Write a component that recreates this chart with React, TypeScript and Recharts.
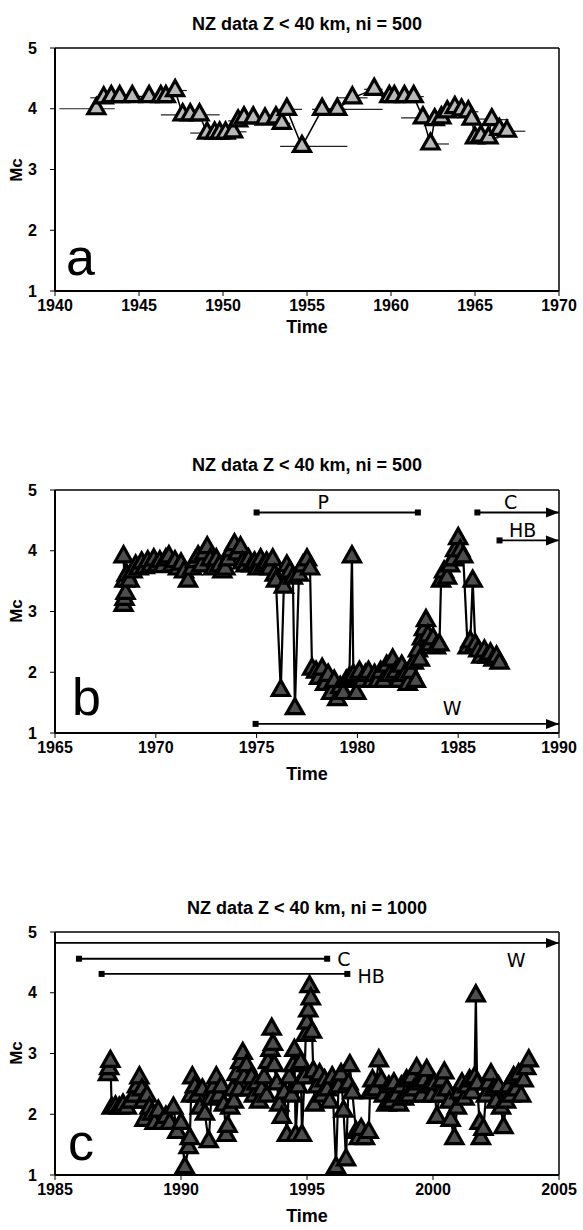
import React from 'react'
import { ScatterChart, Scatter, XAxis, YAxis, ErrorBar, ReferenceLine, ReferenceDot } from 'recharts'

// Panel a: 1940-1970, ni = 500. [year, Mc]
const seriesA: [number, number][] = [
  [1942.46, 4.0], [1942.9, 4.18], [1943.35, 4.2], [1943.85, 4.2], [1944.6, 4.2], [1945.6, 4.2],
  [1946.3, 4.2], [1946.6, 4.2], [1947.15, 4.3], [1947.6, 3.9], [1948.05, 3.9], [1948.6, 3.9],
  [1949.05, 3.6], [1949.5, 3.6], [1949.8, 3.6], [1950.15, 3.6], [1950.6, 3.62], [1950.9, 3.8],
  [1951.25, 3.85], [1951.8, 3.85], [1952.5, 3.83], [1953.15, 3.85], [1953.5, 3.76], [1953.8, 3.99],
  [1954.7, 3.38], [1955.9, 3.99], [1956.8, 3.99], [1957.7, 4.18], [1959.0, 4.32], [1959.9, 4.2],
  [1960.2, 4.2], [1960.8, 4.2], [1961.35, 4.2], [1961.9, 3.85], [1962.35, 3.42], [1962.6, 3.82],
  [1963.0, 3.85], [1963.35, 3.95], [1963.8, 4.02], [1964.2, 3.98], [1964.6, 3.95], [1964.8, 3.83],
  [1965.0, 3.52], [1965.35, 3.55], [1965.8, 3.52], [1966.0, 3.82], [1966.45, 3.66], [1966.9, 3.63],
]
// time window of each estimate: years before / after the plotted time
const windowA: [number, number][] = [
  [2.2, 1.1], [0.8, 0.6], [0.5, 0.5], [0.4, 0.4], [0.4, 0.4], [0.4, 0.4],
  [0.4, 0.4], [0.4, 0.4], [0.5, 0.7], [1.3, 0.6], [0.5, 0.5], [0.5, 1.2],
  [1.0, 0.5], [0.5, 0.5], [0.5, 0.5], [0.5, 0.7], [0.5, 0.8], [0.6, 0.6],
  [0.5, 0.5], [0.5, 0.5], [0.5, 0.5], [0.5, 0.5], [1.5, 0.5], [0.5, 0.9],
  [1.3, 2.7], [0.6, 3.6], [0.5, 0.5], [0.9, 0.9], [0.6, 0.5], [0.5, 0.5],
  [0.4, 0.4], [0.4, 0.4], [0.4, 0.6], [1.3, 1.2], [0.4, 1.1], [0.4, 0.4],
  [0.4, 0.4], [0.4, 0.4], [0.4, 0.4], [0.4, 0.4], [0.4, 0.6], [0.4, 0.9],
  [0.4, 0.4], [0.4, 0.4], [0.4, 0.6], [0.4, 1.0], [0.4, 0.6], [0.4, 1.1],
]

// Panel b: 1965-1990, ni = 500
const seriesB: [number, number][] = [
  [1968.4, 3.1], [1968.45, 3.2], [1968.5, 3.3], [1968.45, 3.5], [1968.4, 3.9], [1968.55, 3.6],
  [1968.7, 3.5], [1968.85, 3.65], [1969.0, 3.75], [1969.15, 3.7], [1969.3, 3.8], [1969.45, 3.72],
  [1969.6, 3.82], [1969.75, 3.75], [1969.9, 3.85], [1970.05, 3.75], [1970.2, 3.82], [1970.35, 3.74],
  [1970.5, 3.85], [1970.65, 3.9], [1970.8, 3.75], [1970.95, 3.82], [1971.1, 3.7], [1971.25, 3.78],
  [1971.4, 3.65], [1971.6, 3.5], [1971.8, 3.7], [1971.95, 3.82], [1972.1, 3.9], [1972.25, 3.75],
  [1972.4, 3.95], [1972.55, 4.05], [1972.7, 3.85], [1972.85, 3.7], [1973.0, 3.85], [1973.15, 3.75],
  [1973.3, 3.65], [1973.45, 3.7], [1973.6, 3.85], [1973.75, 4.0], [1973.9, 4.1], [1974.05, 3.95],
  [1974.2, 4.05], [1974.3, 3.8], [1974.45, 3.75], [1974.6, 3.85], [1974.75, 3.75], [1974.9, 3.8],
  [1975.05, 3.7], [1975.2, 3.85], [1975.35, 3.75], [1975.5, 3.8], [1975.65, 3.7], [1975.8, 3.85],
  [1975.9, 3.6], [1975.96, 3.5], [1976.2, 1.7], [1976.35, 3.4], [1976.5, 3.75], [1976.65, 3.65],
  [1976.8, 3.55], [1976.9, 1.4], [1977.1, 3.6], [1977.3, 3.75], [1977.5, 3.85], [1977.65, 3.7],
  [1977.75, 2.05], [1977.95, 2.0], [1978.1, 1.9], [1978.25, 2.05], [1978.4, 1.8], [1978.55, 1.95],
  [1978.7, 1.65], [1978.85, 1.85], [1979.0, 1.55], [1979.15, 1.75], [1979.3, 1.65], [1979.45, 1.85],
  [1979.6, 1.9], [1979.73, 3.9], [1979.8, 1.95], [1979.95, 1.65], [1980.1, 2.0], [1980.25, 1.85],
  [1980.4, 1.95], [1980.55, 2.0], [1980.7, 1.85], [1980.85, 1.95], [1981.0, 1.85], [1981.15, 2.0],
  [1981.3, 1.85], [1981.45, 2.1], [1981.6, 1.95], [1981.75, 2.2], [1981.9, 2.0], [1982.05, 1.85],
  [1982.2, 2.1], [1982.35, 1.95], [1982.5, 1.8], [1982.65, 2.0], [1982.8, 2.15], [1982.9, 1.85],
  [1983.0, 2.35], [1983.1, 2.2], [1983.2, 2.55], [1983.3, 2.7], [1983.4, 2.85], [1983.5, 2.6],
  [1983.6, 2.45], [1983.75, 2.55], [1983.9, 2.4], [1984.07, 2.45], [1984.15, 3.5], [1984.3, 3.65],
  [1984.45, 3.55], [1984.6, 3.75], [1984.75, 3.85], [1984.85, 4.0], [1985.0, 4.2], [1985.1, 4.0],
  [1985.25, 3.9], [1985.47, 2.4], [1985.6, 2.5], [1985.72, 3.5], [1985.85, 2.45], [1986.0, 2.35],
  [1986.15, 2.25], [1986.3, 2.35], [1986.45, 2.25], [1986.6, 2.3], [1986.75, 2.2], [1986.9, 2.25],
  [1987.05, 2.15],
]

// Panel c: 1985-2005, ni = 1000
const seriesC: [number, number][] = [
  [1987.1, 2.65], [1987.15, 2.75], [1987.2, 2.87], [1987.25, 2.1], [1987.4, 2.12], [1987.55, 2.1],
  [1987.7, 2.15], [1987.85, 2.1], [1988.0, 2.2], [1988.15, 2.3], [1988.25, 2.45], [1988.35, 2.6],
  [1988.45, 2.4], [1988.5, 2.2], [1988.55, 1.9], [1988.65, 2.3], [1988.75, 2.1], [1988.85, 2.0],
  [1988.95, 1.85], [1989.1, 2.05], [1989.25, 1.85], [1989.4, 1.95], [1989.55, 1.85], [1989.7, 2.1],
  [1989.85, 1.7], [1990.0, 1.85], [1990.15, 1.12], [1990.3, 1.45], [1990.35, 1.6], [1990.4, 2.3],
  [1990.45, 2.6], [1990.55, 2.45], [1990.65, 2.3], [1990.75, 2.1], [1990.85, 2.4], [1990.95, 2.0],
  [1991.1, 1.55], [1991.2, 2.25], [1991.3, 2.45], [1991.4, 2.6], [1991.5, 2.3], [1991.6, 2.45],
  [1991.7, 2.15], [1991.8, 1.65], [1991.85, 1.8], [1991.95, 2.1], [1992.05, 2.4], [1992.1, 2.2],
  [1992.2, 2.65], [1992.3, 2.4], [1992.35, 2.85], [1992.45, 3.0], [1992.5, 2.6], [1992.6, 2.8],
  [1992.7, 2.4], [1992.8, 2.6], [1992.9, 2.3], [1993.0, 2.5], [1993.1, 2.2], [1993.2, 2.4],
  [1993.3, 2.6], [1993.4, 2.3], [1993.45, 2.85], [1993.55, 3.05], [1993.6, 3.4], [1993.65, 3.15],
  [1993.7, 2.8], [1993.8, 2.5], [1993.9, 2.15], [1994.0, 1.95], [1994.1, 2.35], [1994.2, 1.65],
  [1994.3, 2.6], [1994.4, 2.3], [1994.45, 2.8], [1994.5, 3.05], [1994.55, 1.65], [1994.65, 2.45],
  [1994.75, 2.85], [1994.8, 1.65], [1994.9, 2.6], [1994.95, 3.3], [1995.0, 3.5], [1995.05, 3.7],
  [1995.1, 4.1], [1995.15, 3.9], [1995.2, 3.35], [1995.25, 2.7], [1995.3, 2.15], [1995.4, 2.45],
  [1995.5, 2.65], [1995.6, 2.3], [1995.7, 2.55], [1995.8, 2.4], [1995.9, 2.2], [1996.0, 2.6],
  [1996.15, 1.12], [1996.25, 2.45], [1996.35, 2.65], [1996.45, 2.05], [1996.55, 1.25], [1996.65, 2.5],
  [1996.7, 2.8], [1996.8, 2.35], [1996.95, 1.7], [1997.05, 1.6], [1997.15, 1.75], [1997.3, 1.6],
  [1997.45, 1.7], [1997.5, 2.35], [1997.6, 2.55], [1997.7, 2.4], [1997.85, 2.88], [1997.95, 2.55],
  [1998.05, 2.3], [1998.15, 2.15], [1998.25, 2.45], [1998.35, 2.2], [1998.45, 2.5], [1998.55, 2.3],
  [1998.65, 2.15], [1998.75, 2.45], [1998.85, 2.25], [1998.95, 2.55], [1999.05, 2.3], [1999.15, 2.6],
  [1999.25, 2.4], [1999.35, 2.75], [1999.45, 2.5], [1999.55, 2.3], [1999.65, 2.55], [1999.75, 2.72],
  [1999.85, 2.45], [1999.95, 2.3], [2000.05, 2.5], [2000.15, 1.95], [2000.25, 2.3], [2000.35, 2.55],
  [2000.45, 2.68], [2000.55, 2.4], [2000.65, 2.2], [2000.7, 1.9], [2000.85, 1.6], [2000.95, 2.1],
  [2001.05, 2.35], [2001.15, 2.5], [2001.25, 2.25], [2001.35, 2.45], [2001.45, 2.55], [2001.55, 2.35],
  [2001.65, 2.6], [2001.7, 3.95], [2001.75, 2.5], [2001.85, 1.85], [2001.9, 1.6], [2002.0, 1.75],
  [2002.1, 2.3], [2002.2, 2.5], [2002.3, 2.65], [2002.4, 2.4], [2002.5, 2.2], [2002.6, 2.45],
  [2002.7, 2.1], [2002.8, 1.78], [2002.9, 2.2], [2003.0, 2.45], [2003.1, 2.3], [2003.2, 2.6],
  [2003.3, 2.4], [2003.4, 2.65], [2003.5, 2.3], [2003.6, 2.55], [2003.7, 2.75], [2003.8, 2.88],
]

const mcTicks = [1, 2, 3, 4, 5]
const timeTicksA = [1940, 1945, 1950, 1955, 1960, 1965, 1970]
const timeTicksB = [1965, 1970, 1975, 1980, 1985, 1990]
const timeTicksC = [1985, 1990, 1995, 2000, 2005]

// catalogue periods: bar from..to at height mc; open ends run to the frame
type Period = { name: string; from: number; to: number; mc: number; openStart: boolean; openEnd: boolean; labelT: number; labelMc: number; anchor: 'middle' | 'start' }
const periodsB: Period[] = [
  { name: 'P', from: 1975, to: 1983, mc: 4.63, openStart: false, openEnd: false, labelT: 1978.3, labelMc: 4.8, anchor: 'middle' },
  { name: 'C', from: 1985.95, to: 1990, mc: 4.63, openStart: false, openEnd: true, labelT: 1987.6, labelMc: 4.81, anchor: 'middle' },
  { name: 'HB', from: 1987.05, to: 1990, mc: 4.17, openStart: false, openEnd: true, labelT: 1988.2, labelMc: 4.34, anchor: 'middle' },
  { name: 'W', from: 1974.95, to: 1990, mc: 1.15, openStart: false, openEnd: true, labelT: 1984.7, labelMc: 1.41, anchor: 'middle' },
]
const periodsC: Period[] = [
  { name: 'W', from: 1985, to: 2005, mc: 4.82, openStart: true, openEnd: true, labelT: 2003.3, labelMc: 4.54, anchor: 'middle' },
  { name: 'C', from: 1985.95, to: 1995.8, mc: 4.56, openStart: false, openEnd: false, labelT: 1996.2, labelMc: 4.56, anchor: 'start' },
  { name: 'HB', from: 1986.85, to: 1996.6, mc: 4.31, openStart: false, openEnd: false, labelT: 1997.0, labelMc: 4.27, anchor: 'start' },
]

const FONT = '"Liberation Sans", Arial, sans-serif'
const tickStyle = { fill: '#000', fontSize: 16, fontWeight: 700, fontFamily: FONT }

const triangle = (fill: string) => (props: any) => {
  const { cx, cy } = props
  if (cx == null || cy == null) return <g />
  return (
    <polygon
      points={`${cx},${cy - 10} ${cx - 8.5},${cy + 5} ${cx + 8.5},${cy + 5}`}
      fill={fill}
      stroke="#000"
      strokeWidth={3.2}
    />
  )
}

const SquareEnd = (props: any) => (
  <rect x={props.cx - 3} y={props.cy - 3} width={6} height={6} fill="#000" />
)
const ArrowEnd = (props: any) => (
  <polygon points={`${props.cx},${props.cy} ${props.cx - 13},${props.cy - 5} ${props.cx - 13},${props.cy + 5}`} fill="#000" />
)

function periodMarks(periods: Period[]) {
  return periods.flatMap((p) => [
    <ReferenceLine
      key={p.name + '-bar'}
      segment={[{ x: p.from, y: p.mc }, { x: p.to, y: p.mc }]}
      stroke="#000"
      strokeWidth={1.8}
    />,
    !p.openStart && <ReferenceDot key={p.name + '-s'} x={p.from} y={p.mc} r={3} shape={SquareEnd} />,
    <ReferenceDot key={p.name + '-e'} x={p.to} y={p.mc} r={3} shape={p.openEnd ? ArrowEnd : SquareEnd} />,
    <ReferenceDot
      key={p.name + '-t'}
      x={p.labelT}
      y={p.labelMc}
      r={1}
      shape={(s: any) => (
        <text x={s.cx} y={s.cy} textAnchor={p.anchor} dominantBaseline="central" fontSize={19} fontFamily='"DejaVu Sans", sans-serif' fill="#000">
          {p.name}
        </text>
      )}
    />,
  ])
}

type PanelProps = {
  points: [number, number][]
  windows?: [number, number][]
  domain: [number, number]
  ticks: number[]
  top: number
  periods?: Period[]
  lineWidth: number
  fill: string
}

function McPanel({ points, windows, domain, ticks, top, periods = [], lineWidth, fill }: PanelProps) {
  const data = points.map(([t, mc], i) => ({ t, mc, win: windows ? windows[i] : undefined }))
  return (
    <div style={{ position: 'absolute', left: 0, top }}>
      <ScatterChart width={583} height={331} margin={{ top: 0, right: 0, bottom: 0, left: 0 }}>
        <XAxis
          dataKey="t"
          type="number"
          domain={domain}
          ticks={ticks}
          allowDataOverflow
          height={40}
          tick={tickStyle}
          tickMargin={4}
          tickLine={{ stroke: '#000' }}
          axisLine={{ stroke: '#000', strokeWidth: 2 }}
          tickSize={5}
          interval={0}
        />
        <XAxis
          xAxisId="top"
          orientation="top"
          dataKey="t"
          type="number"
          domain={domain}
          ticks={ticks}
          allowDataOverflow
          height={48}
          tick={false}
          tickLine={{ stroke: '#000' }}
          axisLine={{ stroke: '#000', strokeWidth: 1.5 }}
          tickSize={5}
        />
        <YAxis
          dataKey="mc"
          type="number"
          domain={[1, 5]}
          ticks={mcTicks}
          allowDataOverflow
          width={55}
          tick={tickStyle}
          tickMargin={13}
          tickLine={{ stroke: '#000' }}
          axisLine={{ stroke: '#000', strokeWidth: 2 }}
          tickSize={5}
          interval={0}
        />
        <YAxis
          yAxisId="right"
          orientation="right"
          dataKey="mc"
          type="number"
          domain={[1, 5]}
          ticks={mcTicks}
          width={24}
          tick={false}
          tickLine={{ stroke: '#000' }}
          axisLine={{ stroke: '#000', strokeWidth: 1.5 }}
          tickSize={5}
        />
        {periodMarks(periods)}
        <Scatter
          data={data}
          isAnimationActive={false}
          line={{ stroke: '#000', strokeWidth: lineWidth }}
          lineType="joint"
          shape={triangle(fill)}
        >
          {windows && <ErrorBar dataKey="win" direction="x" width={0} stroke="#222" strokeWidth={1.2} />}
        </Scatter>
      </ScatterChart>
    </div>
  )
}

export default function App() {
  const titleStyle = { fontFamily: FONT, fontWeight: 700, fontSize: 18, fill: '#000' }
  const letterStyle = { fontFamily: FONT, fontSize: 52, fill: '#000' }
  return (
    <div style={{ position: 'absolute', left: 0, top: 0, width: 583, height: 1230, background: '#fff', overflow: 'hidden' }}>
      <McPanel points={seriesA} windows={windowA} domain={[1940, 1970]} ticks={timeTicksA} top={0} lineWidth={1.5} fill="#b8b8b8" />
      <McPanel points={seriesB} domain={[1965, 1990]} ticks={timeTicksB} top={442} periods={periodsB} lineWidth={2.2} fill="#4d4d4d" />
      <McPanel points={seriesC} domain={[1985, 2005]} ticks={timeTicksC} top={884} periods={periodsC} lineWidth={2.2} fill="#4d4d4d" />
      <svg width={583} height={1230} style={{ position: 'absolute', left: 0, top: 0, pointerEvents: 'none' }}>
        <text x={307} y={24} textAnchor="middle" dominantBaseline="central" {...titleStyle}>NZ data Z &lt; 40 km, ni = 500</text>
        <text x={307} y={465} textAnchor="middle" dominantBaseline="central" {...titleStyle}>NZ data Z &lt; 40 km, ni = 500</text>
        <text x={307} y={908} textAnchor="middle" dominantBaseline="central" {...titleStyle}>NZ data Z &lt; 40 km, ni = 1000</text>

        <text x={307} y={327} textAnchor="middle" dominantBaseline="central" {...titleStyle}>Time</text>
        <text x={307} y={774} textAnchor="middle" dominantBaseline="central" {...titleStyle}>Time</text>
        <text x={307} y={1216} textAnchor="middle" dominantBaseline="central" {...titleStyle}>Time</text>

        {[170, 611, 1053].map((y) => (
          <text key={y} x={16} y={y} textAnchor="middle" dominantBaseline="central" transform={`rotate(-90 16 ${y})`} {...titleStyle} fontSize={17}>
            Mc
          </text>
        ))}

        <text x={66} y={275} {...letterStyle}>a</text>
        <text x={72} y={715} {...letterStyle}>b</text>
        <text x={68} y={1160} {...letterStyle}>c</text>
      </svg>
    </div>
  )
}
